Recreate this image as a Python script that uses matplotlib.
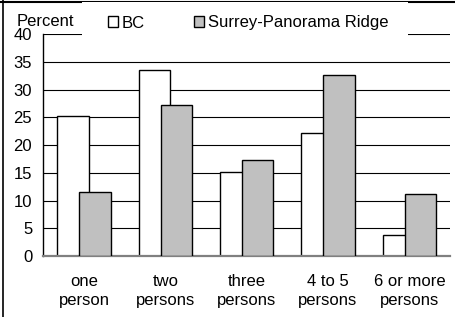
import matplotlib
matplotlib.use("Agg")
import matplotlib.pyplot as plt
from matplotlib.patches import Patch, Rectangle
from matplotlib.lines import Line2D
import numpy as np

categories = ["one\nperson", "two\npersons", "three\npersons", "4 to 5\npersons", "6 or more\npersons"]
bc = [25.3, 33.6, 15.2, 22.2, 3.7]
surrey = [11.5, 27.2, 17.4, 32.7, 11.1]
series_names = ["BC", "Surrey-Panorama Ridge"]
yticks = [0, 5, 10, 15, 20, 25, 30, 35, 40]

plt.rcParams['font.family'] = ['Liberation Sans', 'DejaVu Sans']
FS = 12
W, H = 456, 317
fig = plt.figure(figsize=(W / 100, H / 100), dpi=100)
ax = fig.add_axes([43.3 / W, 1 - 256 / H, (450 - 43.3) / W, (256 - 34.3) / H])

x = np.arange(len(categories))
bw = 0.386
off = 0.135
for yv in yticks[1:]:
    ax.axhline(yv, color='black', lw=0.8, zorder=1)
ax.bar(x - off, bc, width=bw, color='white', edgecolor='black', lw=1.0, zorder=2)
ax.bar(x + off, surrey, width=bw, color='#C0C0C0', edgecolor='black', lw=1.0, zorder=3)

ax.set_xlim(-0.5, len(categories) - 0.5)
ax.set_ylim(0, 40)
ax.set_yticks(yticks)
ax.set_yticklabels([str(v) for v in yticks], fontsize=FS)
ax.set_xticks(x)
ax.set_xticklabels(categories, fontsize=FS, linespacing=1.3)
ax.tick_params(axis='y', length=0, pad=8)
ax.tick_params(axis='x', length=0, pad=13)
for s in ['top', 'right']:
    ax.spines[s].set_visible(False)
ax.spines['left'].set_color('black')
ax.spines['left'].set_linewidth(1.0)
ax.spines['bottom'].set_color('#808080')
ax.spines['bottom'].set_linewidth(1.6)
ax.set_facecolor('none')

# white legend background covering the top gridline
fig.patches.append(Rectangle((82 / W, 1 - 40 / H), (408 - 82) / W, 38 / H,
                             transform=fig.transFigure, facecolor='white',
                             edgecolor='none', zorder=5))
fig.text(17 / W, 1 - 21 / H, "Percent", fontsize=FS, ha='left', va='center', zorder=6)

handles = [Patch(facecolor='white', edgecolor='black', lw=1.0),
           Patch(facecolor='#C0C0C0', edgecolor='black', lw=1.0)]
leg = fig.legend(handles, series_names, loc='center left', ncol=2,
                 bbox_to_anchor=(108 / W, 1 - 23 / H), bbox_transform=fig.transFigure,
                 frameon=False, fontsize=FS, borderpad=0, borderaxespad=0,
                 handlelength=0.6, handleheight=0.6, handletextpad=0.2,
                 columnspacing=3.0)
leg.set_zorder(7)

# outer border lines (top and left)
fig.lines.append(Line2D([0, 1], [1 - 2 / H, 1 - 2 / H], transform=fig.transFigure,
                        color='black', lw=1.5))
fig.lines.append(Line2D([3.5 / W, 3.5 / W], [0, 1], transform=fig.transFigure,
                        color='black', lw=1.2))

fig.savefig("out.png", dpi=100)
